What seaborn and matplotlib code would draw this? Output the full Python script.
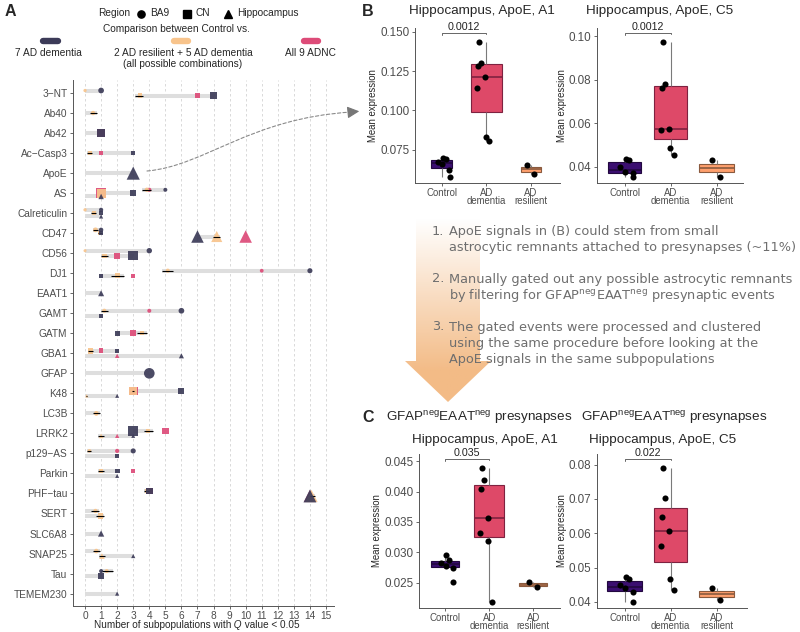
import numpy as np
import pandas as pd
import matplotlib
matplotlib.use("Agg")
import matplotlib.pyplot as plt
import seaborn as sns
from matplotlib.lines import Line2D
from matplotlib.patches import Polygon, FancyArrowPatch
from matplotlib.path import Path
from matplotlib.ticker import FormatStrFormatter

nan = np.nan

# ---------------- Panel A data ----------------
proteins = ['3-NT', 'Ab40', 'Ab42', 'Ac-Casp3', 'ApoE', 'AS', 'Calreticulin', 'CD47', 'CD56',
            'DJ1', 'EAAT1', 'GAMT', 'GATM', 'GBA1', 'GFAP', 'K48', 'LC3B', 'LRRK2', 'p129-AS',
            'Parkin', 'PHF-tau', 'SERT', 'SLC6A8', 'SNAP25', 'Tau', 'TEMEM230']
region_order = ['BA9', 'CN', 'Hippocampus']
comparisons = ['7 AD dementia', '2 AD resilient + 5 AD dementia', 'All 9 ADNC']

row_protein = ['3-NT', '3-NT', 'Ab40', 'Ab42', 'Ac-Casp3', 'ApoE',
               'AS', 'AS', 'AS', 'Calreticulin', 'Calreticulin', 'Calreticulin',
               'CD47', 'CD47', 'CD47', 'CD56', 'CD56', 'DJ1', 'DJ1', 'EAAT1',
               'GAMT', 'GAMT', 'GATM', 'GBA1', 'GBA1', 'GFAP', 'K48', 'K48', 'LC3B',
               'LRRK2', 'LRRK2', 'p129-AS', 'p129-AS', 'Parkin', 'Parkin',
               'PHF-tau', 'PHF-tau', 'SERT', 'SERT', 'SLC6A8', 'SNAP25', 'SNAP25',
               'Tau', 'Tau', 'TEMEM230']
row_region = ['BA9', 'CN', 'BA9', 'CN', 'CN', 'Hippocampus',
              'BA9', 'CN', 'Hippocampus', 'BA9', 'CN', 'Hippocampus',
              'BA9', 'CN', 'Hippocampus', 'BA9', 'CN', 'BA9', 'CN', 'Hippocampus',
              'BA9', 'CN', 'CN', 'CN', 'Hippocampus', 'BA9', 'CN', 'Hippocampus', 'BA9',
              'CN', 'Hippocampus', 'BA9', 'CN', 'CN', 'Hippocampus',
              'CN', 'Hippocampus', 'BA9', 'CN', 'Hippocampus', 'BA9', 'Hippocampus',
              'BA9', 'CN', 'Hippocampus']

# 7 AD dementia
dem_n = [1, 8, nan, 1, 3, 3,
         5, 3, 1, 1, 1, 1,
         1, 1, 7, 4, 3, 14, 1, 1,
         6, 1, 2, 2, 6, 4, 6, 2, nan,
         3, 3, 3, 2, 2, 2,
         4, 14, nan, nan, 1, nan, 3,
         1, 1, 2]
dem_w = [0.16, 0.25, nan, 0.28, 0.06, 1.0,
         0.06, 0.22, 0.14, 0.07, 0.07, 0.07,
         0.08, 0.06, 0.9, 0.14, 0.5, 0.12, 0.06, 0.18,
         0.16, 0.06, 0.1, 0.08, 0.12, 0.64, 0.18, 0.06, nan,
         0.55, 0.06, 0.12, 0.06, 0.1, 0.06,
         0.25, 0.95, nan, nan, 0.2, nan, 0.07,
         0.06, 0.15, 0.07]

# 2 AD resilient + 5 AD dementia (mean and range over combinations)
res_n = [0, 3.4, 0.5, nan, 0.3, nan,
         3.85, 1, nan, 0, 0.55, nan,
         0.65, 0.9, 8.2, 0, 1.2, 5.15, 2.0, nan,
         1.2, nan, 3.55, 0.35, nan, nan, 3, 0.1, 0.7,
         3.9, 1.0, 0.27, nan, 1.0, nan,
         3.85, 14.1, 0.65, 0.95, nan, 0.7, 1.05,
         1.35, nan, nan]
res_lo = [0, 3.1, 0.3, nan, 0.15, nan,
          3.55, 1, nan, 0, 0.4, nan,
          0.5, 0.8, 7.95, 0, 1.0, 4.8, 1.6, nan,
          1.0, nan, 3.25, 0.2, nan, nan, 2.9, 0.05, 0.5,
          3.7, 0.8, 0.15, nan, 0.8, nan,
          3.7, 14.0, 0.4, 0.7, nan, 0.5, 0.85,
          1.0, nan, nan]
res_hi = [0, 3.6, 0.75, nan, 0.45, nan,
          4.1, 1, nan, 0, 0.7, nan,
          0.8, 1.05, 8.4, 0, 1.4, 5.5, 2.4, nan,
          1.45, nan, 3.85, 0.5, nan, nan, 3.05, 0.15, 0.9,
          4.2, 1.2, 0.4, nan, 1.2, nan,
          4.0, 14.3, 0.85, 1.2, nan, 0.9, 1.25,
          1.75, nan, nan]
res_w = [0.03, 0.07, 0.08, nan, 0.06, nan,
         0.08, 0.45, nan, 0.03, 0.05, nan,
         0.1, 0.06, 0.7, 0.02, 0.08, 0.07, 0.1, nan,
         0.07, nan, 0.07, 0.14, nan, nan, 0.3, 0.03, 0.1,
         0.07, 0.09, 0.05, nan, 0.08, nan,
         0.1, 0.85, 0.08, 0.14, nan, 0.09, 0.16,
         0.06, nan, nan]

# All 9 ADNC
adnc_n = [nan, 7, nan, 1, 1, nan,
          4, 1, nan, nan, nan, nan,
          nan, nan, 10, nan, 2, 11, 3, nan,
          4, nan, 3, 1, 2, nan, 3, nan, nan,
          5, 2, 2, nan, 3, nan,
          4, 14, nan, nan, nan, nan, nan,
          nan, nan, nan]
adnc_w = [nan, 0.08, nan, 0.3, 0.06, nan,
          0.07, 0.55, nan, nan, nan, nan,
          nan, nan, 0.9, nan, 0.18, 0.05, 0.06, nan,
          0.06, nan, 0.18, 0.1, 0.08, nan, 0.4, nan, nan,
          0.22, 0.07, 0.07, nan, 0.05, nan,
          0.25, 0.85, nan, nan, nan, nan, nan,
          nan, nan, nan]

# ---------------- Panels B / C data ----------------
groups = ['Control', 'AD dementia', 'AD resilient']
group_labels = ['Control', 'AD\ndementia', 'AD\nresilient']

b_a1_control = [0.0697, 0.0692, 0.0672, 0.0660, 0.0625, 0.0578]
b_a1_dementia = [0.1433, 0.1303, 0.1283, 0.1215, 0.1145, 0.0834, 0.0803]
b_a1_resilient = [0.0653, 0.0598]
b_c5_control = [0.0433, 0.0428, 0.0396, 0.0373, 0.0368, 0.0352]
b_c5_dementia = [0.0972, 0.0778, 0.0760, 0.0572, 0.0570, 0.0484, 0.0455]
b_c5_resilient = [0.0428, 0.0354]
c_a1_control = [0.0296, 0.0287, 0.0282, 0.0278, 0.0274, 0.0251]
c_a1_dementia = [0.0439, 0.0419, 0.0404, 0.0356, 0.0332, 0.0318, 0.0218]
c_a1_resilient = [0.0251, 0.0242]
c_c5_control = [0.0472, 0.0466, 0.0450, 0.0440, 0.0429, 0.0400]
c_c5_dementia = [0.0790, 0.0702, 0.0648, 0.0607, 0.0564, 0.0467, 0.0436]
c_c5_resilient = [0.0442, 0.0405]
p_values = ['0.0012', '0.0012', '0.035', '0.022']

# ---------------- style ----------------
sns.set_style("ticks")
plt.rcParams['font.family'] = ['Liberation Sans', 'DejaVu Sans']
plt.rcParams['mathtext.fontset'] = 'custom'
plt.rcParams['mathtext.rm'] = 'Liberation Sans'
plt.rcParams['mathtext.it'] = 'Liberation Sans:italic'
plt.rcParams['mathtext.bf'] = 'Liberation Sans:bold'
plt.rcParams['mathtext.sf'] = 'DejaVu Sans'

W, H = 800, 632
comp_colors = dict(zip(comparisons, ['#3c3b58', '#f8c48c', '#dd4b78']))
region_markers = {'BA9': 'o', 'CN': 's', 'Hippocampus': '^'}
box_fill = dict(zip(groups, ['#3b0f70', '#de4968', '#fe9f6d']))
box_edge = dict(zip(groups, ['#22083f', '#7e2240', '#8a5a3e']))
tick_grey = '#4d4d4d'


def rect(l, t, r, b):
    return [l / W, 1 - b / H, (r - l) / W, (b - t) / H]


fig = plt.figure(figsize=(8, 6.32), dpi=100)

# ---------------- Panel A ----------------
axA = fig.add_axes(rect(73, 80, 334, 606))
axA.patch.set_alpha(0)

rows = pd.DataFrame({'protein': row_protein, 'region': row_region,
                     'dem': dem_n, 'dem_w': dem_w,
                     'res': res_n, 'res_lo': res_lo, 'res_hi': res_hi, 'res_w': res_w,
                     'adnc': adnc_n, 'adnc_w': adnc_w})
rows['ypos'] = rows['protein'].map({p: i for i, p in enumerate(proteins)}).astype(float)
for p, grp in rows.groupby('protein'):
    n = len(grp)
    ordered = grp.sort_values('region', key=lambda s: s.map(region_order.index))
    for k, idx in enumerate(ordered.index):
        rows.loc[idx, 'ypos'] += (k - (n - 1) / 2) * 0.5 / n

# grey range bar between the dementia count and the resilient-combination range
base = rows['dem'].fillna(0)
bar_lo = np.minimum(base, rows['res_lo'].fillna(0))
bar_hi = np.maximum(base, rows['res_hi'].fillna(0))

for x in range(16):
    axA.axvline(x, color='#d3d3d3', lw=0.6, ls=(0, (3, 3)), zorder=0)
axA.hlines(rows['ypos'], bar_lo, bar_hi, color='#dedede', lw=2.9, zorder=1)


def long_part(val, w, comp):
    d = rows[['ypos', 'region']].copy()
    d['x'] = rows[val]
    d['w'] = rows[w]
    d['comparison'] = comp
    return d.dropna(subset=['x'])


pts_under = pd.concat([long_part('adnc', 'adnc_w', comparisons[2]),
                       long_part('res', 'res_w', comparisons[1])], ignore_index=True)
pts_top = long_part('dem', 'dem_w', comparisons[0])

common = dict(hue='comparison', hue_order=comparisons, palette=comp_colors,
              style='region', style_order=region_order, markers=region_markers,
              size='w', sizes=(3, 90), size_norm=(0, 1), linewidth=0, alpha=0.92,
              legend=False, ax=axA)
sns.scatterplot(data=pts_under, x='x', y='ypos', zorder=3, **common)
err = rows.dropna(subset=['res'])
err = err[err['res_hi'] > err['res_lo']]
axA.hlines(err['ypos'], err['res_lo'], err['res_hi'], color='black', lw=0.8, zorder=4)
sns.scatterplot(data=pts_top, x='x', y='ypos', zorder=5, **common)

axA.set_xlim(-0.75, 15.5)
axA.set_ylim(25.62, -0.65)
axA.set_xticks(range(16))
axA.set_yticks(range(len(proteins)))
axA.set_yticklabels([p.replace('-', '\u2212') for p in proteins])
axA.tick_params(axis='both', colors=tick_grey, labelsize=7.3, length=2.5, width=0.6, pad=1.5)
axA.tick_params(axis='x', pad=0.8)
axA.set_xlabel('')
axA.set_ylabel('')
for s in ['top', 'right']:
    axA.spines[s].set_visible(False)
for s in ['left', 'bottom']:
    axA.spines[s].set_color('#555555')
    axA.spines[s].set_linewidth(0.7)


# ---------------- Panels B / C ----------------
def box_panel(rect_px, xlim, values, widths, pval, major, fmt):
    ax = fig.add_axes(rect(*rect_px))
    df = pd.DataFrame({'group': np.repeat(groups, [len(v) for v in values]),
                       'value': np.concatenate(values)})
    for g, wd in zip(groups, widths):
        sns.boxplot(data=df[df['group'] == g], x='group', y='value', order=groups,
                    color=box_fill[g], linecolor=box_edge[g], width=wd, linewidth=0.8,
                    saturation=1, showfliers=False, showcaps=False,
                    whiskerprops={'color': '#7a7a7a'},
                    medianprops={'linewidth': 1.2}, ax=ax)
    np.random.seed(3)
    sns.stripplot(data=df, x='group', y='value', order=groups, color='black',
                  size=4.4, jitter=0.22, ax=ax, zorder=5)
    vmin, vmax = df['value'].min(), df['value'].max()
    span = vmax - vmin
    yb = vmax + 0.07 * span
    ax.plot([0, 0, 1, 1], [yb - 0.02 * span, yb, yb, yb - 0.01 * span],
            color='#666666', lw=0.7, clip_on=False)
    ax.text(0.5, yb + 0.002 * span, pval, ha='center', va='bottom', fontsize=7.7,
            color='#222222', clip_on=False)
    ax.set_xlim(*xlim)
    ax.set_ylim(vmin - 0.045 * span, yb + 0.035 * span)
    ax.yaxis.set_major_locator(plt.MultipleLocator(major))
    ax.yaxis.set_major_formatter(FormatStrFormatter(fmt))
    ax.set_xticks(range(3))
    ax.set_xticklabels(group_labels, linespacing=0.85)
    ax.tick_params(axis='y', colors=tick_grey, labelsize=8.4, length=2.5, width=0.6, pad=1.5)
    ax.tick_params(axis='x', colors=tick_grey, labelsize=6.9, length=2.5, width=0.6, pad=0.8)
    ax.set_xlabel('')
    ax.set_ylabel('Mean expression', fontsize=6.9, labelpad=1.5)
    for s in ['top', 'right']:
        ax.spines[s].set_visible(False)
    for s in ['left', 'bottom']:
        ax.spines[s].set_color('#555555')
        ax.spines[s].set_linewidth(0.7)
    return ax


box_panel((415, 28, 560, 183), (-0.6, 2.65),
          [b_a1_control, b_a1_dementia, b_a1_resilient], [0.47, 0.68, 0.45],
          p_values[0], 0.025, '%.3f')
box_panel((597, 28, 743, 183), (-0.6, 2.57),
          [b_c5_control, b_c5_dementia, b_c5_resilient], [0.71, 0.71, 0.75],
          p_values[1], 0.02, '%.2f')
box_panel((419, 454, 560, 608), (-0.6, 2.61),
          [c_a1_control, c_a1_dementia, c_a1_resilient], [0.64, 0.68, 0.64],
          p_values[2], 0.005, '%.3f')
box_panel((597, 454, 747, 608), (-0.6, 2.66),
          [c_c5_control, c_c5_dementia, c_c5_resilient], [0.76, 0.72, 0.76],
          p_values[3], 0.01, '%.2f')

# ---------------- overlay: legend, titles, annotations ----------------
ov = fig.add_axes([0, 0, 1, 1], zorder=10)
ov.set_xlim(0, W)
ov.set_ylim(H, 0)
ov.axis('off')

# x-axis title of panel A (italic Q)
t1 = ov.text(94, 630.5, 'Number of subpopulations with', fontsize=7.2, va='bottom', ha='left')
t2 = ov.annotate(' Q', xy=(1, 0), xycoords=t1, fontsize=7.2, style='italic',
                 va='bottom', ha='left')
ov.annotate(' value < 0.05', xy=(1, 0), xycoords=t2, fontsize=7.2, va='bottom', ha='left')

# gradient arrow
arrow_verts = [(416, 218), (480, 218), (480, 361), (491, 361), (448, 402), (405, 361), (416, 361)]
arrow = Polygon(arrow_verts, closed=True, facecolor='none', edgecolor='none')
ov.add_patch(arrow)
grad = np.zeros((200, 1, 4))
grad[:, 0, :3] = matplotlib.colors.to_rgb('#f3bb86')
grad[:, 0, 3] = np.clip(np.linspace(0, 1.2, 200), 0, 1)
im = ov.imshow(grad, extent=(400, 495, 402, 218), aspect='auto', zorder=1,
               interpolation='bilinear')
im.set_clip_path(arrow)
ov.set_xlim(0, W)
ov.set_ylim(H, 0)

steps = [('1.', ['ApoE signals in (B) could stem from small',
                 'astrocytic remnants attached to presynapses (~11%)'], 231.5),
         ('2.', ['Manually gated out any possible astrocytic remnants',
                 'by filtering for GFAP$^{\\mathsf{neg}}$EAAT$^{\\mathsf{neg}}$ presynaptic events'], 279),
         ('3.', ['The gated events were processed and clustered',
                 'using the same procedure before looking at the',
                 'ApoE signals in the same subpopulations'], 327)]
for num, lines, y0 in steps:
    ov.text(432, y0, num, fontsize=9.3, color='#6e6e6e', family='DejaVu Sans',
            va='center', ha='left', zorder=3)
    for k, line in enumerate(lines):
        ov.text(449, y0 + 16.3 * k, line, fontsize=9.3, color='#6e6e6e',
                family='DejaVu Sans', va='center', ha='left', zorder=3)

# dashed curved arrow from ApoE row to panel B
curve = Path([(147, 171), (205, 166), (250, 118), (352, 112)],
             [Path.MOVETO, Path.CURVE4, Path.CURVE4, Path.CURVE4])
ov.add_patch(FancyArrowPatch(path=curve, arrowstyle='-', color='#8a8a8a', lw=0.8,
                             linestyle=(0, (3, 2)), zorder=4))
ov.add_patch(FancyArrowPatch((349, 112.3), (362, 111), arrowstyle='-|>,head_length=4,head_width=2',
                             color='#777777', lw=0.8, mutation_scale=1.8, zorder=4))

# panel letters
for letter, x, y in [('A', 5, 12), ('B', 362, 11), ('C', 362, 418)]:
    ov.text(x, y, letter, fontsize=11.5, fontweight='bold', va='center', ha='left')

# panel A legend
ov.text(98, 13.5, 'Region', fontsize=7.3, va='center', ha='left')
for reg, mx, tx in [('BA9', 141, 150), ('CN', 187, 196), ('Hippocampus', 228, 237)]:
    ov.add_line(Line2D([mx], [13.5], marker=region_markers[reg], color='black',
                       markersize=5.2, linestyle='none'))
    ov.text(tx, 13.5, reg, fontsize=7.3, va='center', ha='left')
ov.text(176, 28.5, 'Comparison between Control vs.', fontsize=7.3, va='center', ha='center')
for comp, x0, x1, tx, lab in [(comparisons[0], 43, 58, 48, '7 AD dementia'),
                              (comparisons[1], 174, 188, 183,
                               '2 AD resilient + 5 AD dementia\n(all possible combinations)'),
                              (comparisons[2], 304, 318, 310, 'All 9 ADNC')]:
    ov.add_line(Line2D([x0, x1], [41, 41], color=comp_colors[comp], lw=4.6,
                       solid_capstyle='round'))
    ov.text(tx, 48, lab, fontsize=7.3, va='top', ha='center', linespacing=1.15)

# panel B / C titles
for x, t in [(482, 'Hippocampus, ApoE, A1'), (660, 'Hippocampus, ApoE, C5')]:
    ov.text(x, 11, t, fontsize=9.7, ha='center', va='center')
neg_title = 'GFAP$^{\\mathrm{neg}}$EAAT$^{\\mathrm{neg}}$ presynapses'
for x1, x2, t in [(479, 485, 'Hippocampus, ApoE, A1'), (674, 663, 'Hippocampus, ApoE, C5')]:
    ov.text(x1, 418, neg_title, fontsize=9.7, ha='center', va='center')
    ov.text(x2, 440, t, fontsize=9.7, ha='center', va='center')

fig.savefig('out.png', dpi=100)
